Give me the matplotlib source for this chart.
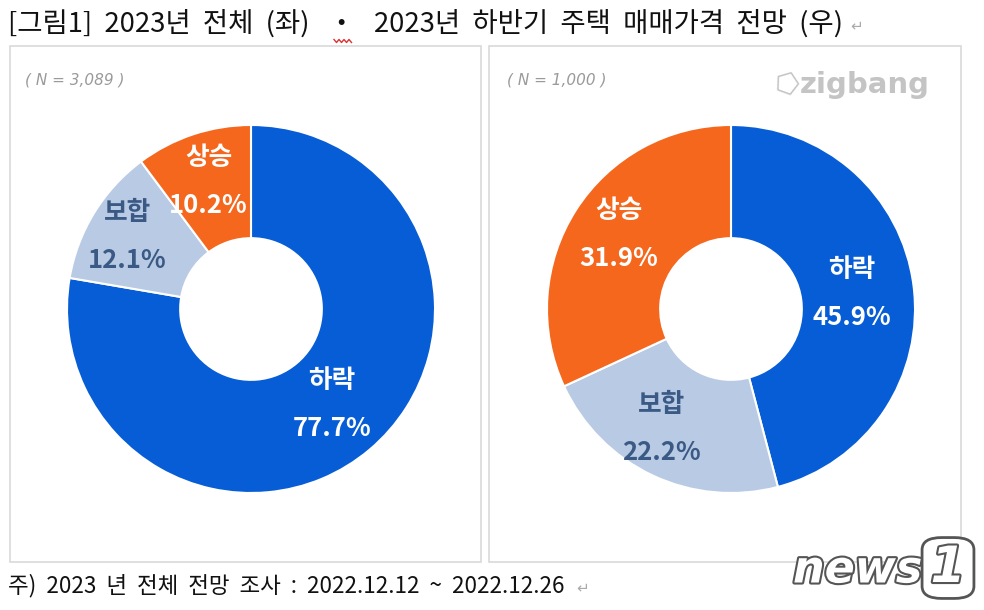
import matplotlib
matplotlib.use("Agg")
import numpy as np
import matplotlib.pyplot as plt
from matplotlib.patches import Rectangle, FancyBboxPatch
import matplotlib.patheffects as pe

plt.rcParams['font.family'] = ['Noto Sans CJK KR', 'DejaVu Sans']

# 데이터
labels = ['하락', '보합', '상승']
left_vals = [77.7, 12.1, 10.2]
right_vals = [45.9, 22.2, 31.9]
left_n = '( N = 3,089 )'
right_n = '( N = 1,000 )'
title = '[그림1]  2023년  전체  (좌)   ・   2023년  하반기  주택  매매가격  전망  (우)'
note = '주)  2023  년  전체  전망  조사  :  2022.12.12  ~  2022.12.26'

colors = ['#075dd5', '#b9cbe4', '#f4671d']
text_colors = ['white', '#3a5a85', 'white']

W, H = 984, 610
fig = plt.figure(figsize=(W / 100, H / 100), dpi=100)
fig.patch.set_facecolor('white')


def px(x, y):
    # 픽셀 좌표(위에서부터) -> figure 좌표
    return x / W, 1 - y / H


# 패널 테두리
for x0, x1 in [(10, 481), (489, 961)]:
    fig.patches.append(Rectangle(px(x0, 562), (x1 - x0) / W, (562 - 46) / H,
                                 transform=fig.transFigure, fill=False,
                                 edgecolor='#d9d9d9', linewidth=1.2))


def donut(cx, cy, vals, radii, shifts):
    r = 184
    ax = fig.add_axes([(cx - r) / W, 1 - (cy + r) / H, 2 * r / W, 2 * r / H])
    wedges, _ = ax.pie(vals, colors=colors, startangle=90, counterclock=False,
                       radius=1, wedgeprops=dict(width=0.615, edgecolor='white', linewidth=1.5))
    ax.set_xlim(-1, 1)
    ax.set_ylim(-1, 1)
    ax.set_aspect('auto')
    for w, lab, v, tc, rr, sh in zip(wedges, labels, vals, text_colors, radii, shifts):
        ang = np.deg2rad((w.theta1 + w.theta2) / 2 + sh)
        x, y = rr * np.cos(ang), rr * np.sin(ang)
        ax.text(x, y + 0.13, lab, ha='center', va='center', fontsize=18.5,
                fontweight='bold', color=tc)
        ax.text(x, y - 0.13, f'{v:.1f}%', ha='center', va='center', fontsize=18.5,
                fontweight='bold', color=tc)
    ax.axis('off')


donut(251, 309, left_vals, [0.68, 0.78, 0.73], [0, 1, 0])
donut(731, 309, right_vals, [0.66, 0.75, 0.73], [0, -5, -1])

# 텍스트
fig.text(*px(8, 24), title, fontsize=19.8, va='center', ha='left', color='#111111')
fig.text(*px(850, 26), '↵', fontsize=11, va='center', ha='left', color='#aaaaaa',
         family='DejaVu Sans')
fig.text(*px(8, 586), note, fontsize=16.2, va='center', ha='left', color='#111111')
fig.text(*px(576, 588), '↵', fontsize=11, va='center', ha='left', color='#aaaaaa',
         family='DejaVu Sans')

# 맞춤법 물결선
xs = [334 + i * 2.5 for i in range(8)]
ys = [41 + (1.5 if i % 2 else -1.5) for i in range(8)]
fig.add_artist(plt.Line2D([x / W for x in xs], [1 - y / H for y in ys],
                          color='#e03030', linewidth=1, transform=fig.transFigure))

fig.text(*px(25, 80), left_n, fontsize=11, style='italic', color='#9a9a9a',
         va='center', family='DejaVu Sans')
fig.text(*px(507, 80), right_n, fontsize=11, style='italic', color='#9a9a9a',
         va='center', family='DejaVu Sans')

# zigbang 로고
fig.text(*px(800, 85), 'zigbang', fontsize=21, fontweight='bold', color='#c4c4c4',
         va='center', family='DejaVu Sans')
fig.text(*px(770, 85), '⬠', fontsize=20, fontweight='bold', color='#c4c4c4',
         va='center', family='DejaVu Sans', rotation=-20)

# news1 로고
fig.text(*px(793, 570), 'news', fontsize=32, fontweight='bold', style='italic',
         color='white', va='center', family='DejaVu Sans',
         path_effects=[pe.withStroke(linewidth=3, foreground='#555555')])
fig.patches.append(FancyBboxPatch(px(926, 596), 44 / W, 56 / H,
                                  boxstyle='round,pad=0.004,rounding_size=0.02',
                                  transform=fig.transFigure, facecolor='white',
                                  edgecolor='#555555', linewidth=2))
fig.text(*px(948, 568), '1', fontsize=36, fontweight='bold', style='italic',
         color='white', va='center', ha='center', family='DejaVu Sans',
         path_effects=[pe.withStroke(linewidth=3, foreground='#555555')])

fig.savefig('out.png', dpi=100)
